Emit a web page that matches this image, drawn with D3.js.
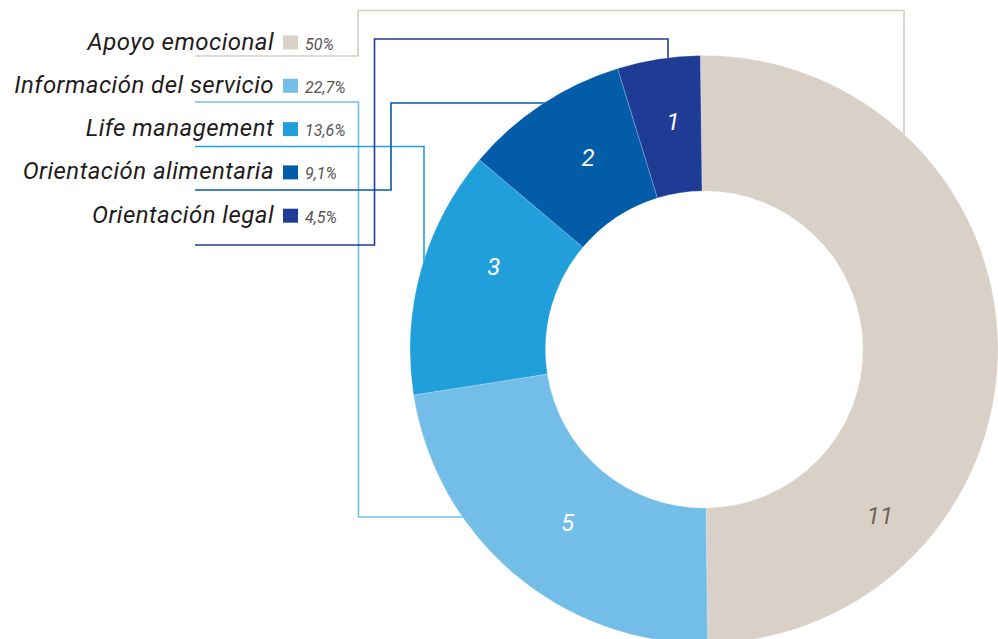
<!DOCTYPE html>
<html>
<head>
<meta charset="utf-8">
<script src="https://cdn.jsdelivr.net/npm/d3@7"></script>
<style>
    html, body { margin: 0; padding: 0; background: #ffffff; }
    svg { display: block; }
</style>
</head>
<body>
<div id="chart"></div>
<script>
// data, legend order = clockwise order from the top
const categories = ["Apoyo emocional", "Información del servicio", "Life management", "Orientación alimentaria", "Orientación legal"];
const values = [11, 5, 3, 2, 1];
const colors = ["#d9d1c8", "#73bee9", "#219fda", "#035ca8", "#1e3c95"];

// where the number sits inside its slice (0 = slice start, 1 = slice end)
const label_fraction = [0.745, 0.477, 0.62, 0.57, 0.57];

// routing of the leader line of each legend row (drawn under the donut)
const leaders = [
    [[195, 56], [358, 56], [358, 10.5], [904, 10.5], [904, 200]],
    [[195, 102], [358.5, 102], [358.5, 517], [520, 517]],
    [[195, 146.5], [424, 146.5], [424, 310]],
    [[195, 190], [391, 190], [391, 103], [600, 103]],
    [[195, 245], [374.5, 245], [374.5, 39], [668, 39], [668, 110]]
];

const width = 998, height = 639;
const cx = 704, cy = 349.5;
const outer_r = 294, inner_r = 158.5;
const start = -0.0126;

const svg = d3.select("#chart").append("svg")
    .attr("width", width)
    .attr("height", height);

// leader lines
const line = d3.line();
svg.append("g").attr("id", "leaders")
    .selectAll("path")
    .data(leaders)
    .enter()
    .append("path")
    .attr("d", d => line(d))
    .attr("fill", "none")
    .attr("stroke", (d, i) => i === 0 ? "#d6cdc3" : colors[i])
    .attr("stroke-width", 1.6);

// donut
const pie = d3.pie()
    .sort(null)
    .value(d => d)
    .startAngle(start)
    .endAngle(start + 2 * Math.PI);

const arcs = pie(values);

const arc = d3.arc()
    .innerRadius(inner_r)
    .outerRadius(outer_r);

const donut = svg.append("g")
    .attr("transform", "translate(" + cx + "," + cy + ")");

donut.selectAll("path")
    .data(arcs)
    .enter()
    .append("path")
    .attr("d", arc)
    .attr("fill", (d, i) => colors[i])
    .attr("stroke", "rgba(255,255,255,0.35)")
    .attr("stroke-width", 0.6);

const label_r = [242, 220, 226, 224, 230];

donut.selectAll("text")
    .data(arcs)
    .enter()
    .append("text")
    .attr("x", (d, i) => {
        let a = d.startAngle + (d.endAngle - d.startAngle) * label_fraction[i];
        return label_r[i] * Math.sin(a);
    })
    .attr("y", (d, i) => {
        let a = d.startAngle + (d.endAngle - d.startAngle) * label_fraction[i];
        return -label_r[i] * Math.cos(a);
    })
    .attr("dy", "0.35em")
    .attr("text-anchor", "middle")
    .attr("font-family", "Roboto, 'DejaVu Sans', sans-serif")
    .attr("font-style", "italic")
    .attr("font-size", 24)
    .attr("fill", (d, i) => i === 0 ? "#6b645d" : "#ffffff")
    .text(d => d.data);

// legend
const total = d3.sum(values);
const pct = v => {
    let s = d3.format(".1f")(v / total * 100);
    if (s.endsWith(".0")) s = s.slice(0, -2);
    return s.replace(".", ",") + "%";
};

const legend = svg.append("g").attr("id", "legend");

const rows = legend.selectAll("g")
    .data(categories)
    .enter()
    .append("g")
    .attr("transform", (d, i) => "translate(0," + (49.5 + i * 43.3) + ")");

rows.append("text")
    .attr("x", 274)
    .attr("text-anchor", "end")
    .attr("font-family", "Roboto, 'DejaVu Sans', sans-serif")
    .attr("font-style", "italic")
    .attr("font-size", 24)
    .attr("letter-spacing", 0.45)
    .attr("fill", "#1f1c1d")
    .text(d => d);

rows.append("rect")
    .attr("x", 283)
    .attr("y", -14)
    .attr("width", 15)
    .attr("height", 14)
    .attr("fill", (d, i) => colors[i]);

rows.append("text")
    .attr("x", 305)
    .attr("font-family", "'Liberation Sans Narrow', 'Roboto', sans-serif")
    .attr("font-style", "italic")
    .attr("font-size", 16)
    .attr("fill", "#555555")
    .text((d, i) => pct(values[i]));
</script>
</body>
</html>
